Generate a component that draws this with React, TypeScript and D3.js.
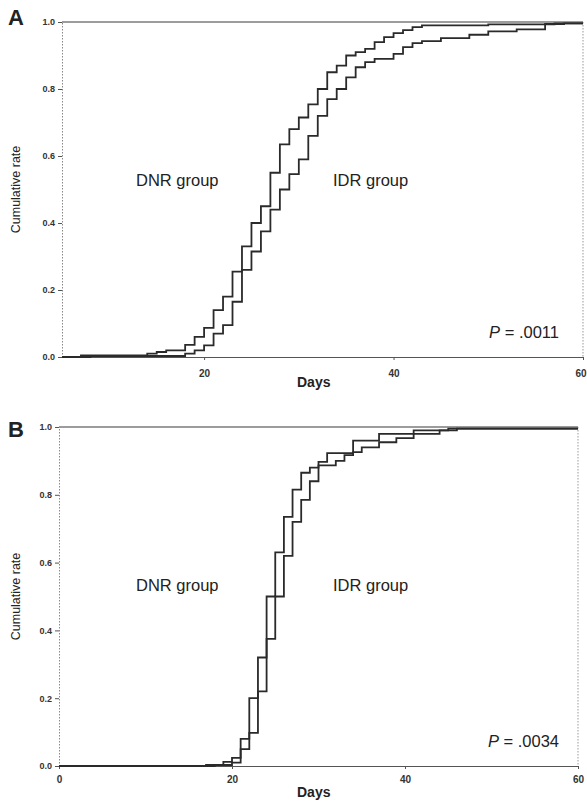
import React, { useEffect, useRef } from "react"
import * as d3 from "d3"

const W = 587
const H = 804
const FONT = "'Liberation Sans', Arial, sans-serif"

// Panel A (day, cumulative rate)
const aDnrDays = [5, 7, 14, 15, 16, 18, 19, 20, 21, 22, 23, 24, 25, 26, 27, 28, 29, 30, 31, 32, 33, 34, 35, 36, 37, 38, 39, 40, 41, 42, 43, 50, 57, 60]
const aDnrRate = [0, 0.005, 0.01, 0.015, 0.02, 0.036, 0.06, 0.087, 0.14, 0.18, 0.255, 0.33, 0.4, 0.45, 0.55, 0.635, 0.68, 0.715, 0.754, 0.8, 0.85, 0.87, 0.9, 0.91, 0.92, 0.94, 0.955, 0.967, 0.976, 0.985, 0.99, 0.993, 0.996, 0.996]
const aIdrDays = [5, 8, 18, 19, 20, 21, 22, 23, 24, 25, 26, 27, 28, 29, 30, 31, 32, 33, 34, 35, 36, 37, 38, 40, 41, 42, 43, 45, 48, 50, 53, 56, 58, 60]
const aIdrRate = [0, 0.003, 0.01, 0.02, 0.035, 0.07, 0.095, 0.165, 0.26, 0.315, 0.375, 0.44, 0.5, 0.546, 0.59, 0.66, 0.72, 0.77, 0.8, 0.835, 0.865, 0.88, 0.89, 0.905, 0.925, 0.937, 0.943, 0.952, 0.962, 0.972, 0.978, 0.994, 0.996, 0.996]

// Panel B
const bDnrDays = [0, 17, 19, 20, 21, 22, 23, 24, 25, 26, 27, 28, 29, 30, 31, 34, 37, 41, 45, 60]
const bDnrRate = [0, 0.003, 0.012, 0.024, 0.08, 0.2, 0.32, 0.5, 0.63, 0.735, 0.815, 0.865, 0.88, 0.897, 0.923, 0.96, 0.98, 0.99, 0.995, 0.995]
const bIdrDays = [0, 18, 20, 21, 22, 23, 24, 25, 26, 27, 28, 29, 30, 32, 33, 34, 35, 37, 39, 41, 44, 46, 60]
const bIdrRate = [0, 0.003, 0.01, 0.05, 0.098, 0.22, 0.375, 0.5, 0.62, 0.72, 0.785, 0.84, 0.887, 0.9, 0.917, 0.926, 0.94, 0.955, 0.967, 0.98, 0.99, 0.995, 0.995]

const rateTicks = [0, 0.2, 0.4, 0.6, 0.8, 1.0]
const aDayTicks = [20, 40, 60]
const bDayTicks = [0, 20, 40, 60]

const zip = (xs: number[], ys: number[]) => xs.map((d, i) => [d, ys[i]] as [number, number])

const panels = [
  {
    letter: "A", letterY: 25, pValue: ".0011",
    left: 62, right: 583, top: 22, bottom: 357, xDomain: [5, 60], xTicks: aDayTicks, tickLabelY: 20, daysY: 30,
    dnr: zip(aDnrDays, aDnrRate), idr: zip(aIdrDays, aIdrRate)
  },
  {
    letter: "B", letterY: 437, pValue: ".0034",
    left: 59, right: 578, top: 427, bottom: 766, xDomain: [0, 60], xTicks: bDayTicks, tickLabelY: 17, daysY: 31,
    dnr: zip(bDnrDays, bDnrRate), idr: zip(bIdrDays, bIdrRate)
  }
]

function drawPanel(svg: any, p: any) {
  const x = d3.scaleLinear().domain(p.xDomain).range([p.left, p.right])
  const y = d3.scaleLinear().domain([0, 1]).range([p.bottom, p.top])
  const g = svg.append("g")

  // frame: solid top, dotted right
  g.append("line")
    .attr("x1", p.left).attr("x2", p.right)
    .attr("y1", y(1)).attr("y2", y(1))
    .attr("stroke", "#3a3a3a").attr("stroke-width", 1.2)
  g.append("line")
    .attr("x1", p.right).attr("x2", p.right)
    .attr("y1", p.top).attr("y2", p.bottom)
    .attr("stroke", "#999").attr("stroke-dasharray", "1.5,1.5")

  const ya = g.append("g")
    .attr("transform", `translate(${p.left},0)`)
    .call(d3.axisLeft(y).tickValues(rateTicks).tickSize(4).tickSizeOuter(0).tickPadding(3).tickFormat(d3.format(".1f")))
  ya.attr("font-family", FONT)
  ya.select(".domain").attr("stroke", "#888").attr("stroke-dasharray", "1.5,1.5")
  ya.selectAll(".tick line").attr("stroke", "#555")
  ya.selectAll("text").attr("font-size", 9).attr("font-weight", "bold").attr("fill", "#333")

  const xa = g.append("g")
    .attr("transform", `translate(0,${p.bottom})`)
    .call(d3.axisBottom(x).tickValues(p.xTicks).tickSize(3).tickSizeOuter(0).tickFormat(d3.format("d")))
  xa.attr("font-family", FONT)
  xa.select(".domain").attr("stroke", "#555").attr("stroke-width", 1.2)
  xa.selectAll(".tick line").attr("stroke", "#555")
  xa.selectAll("text")
    .attr("y", p.tickLabelY).attr("dy", 0)
    .attr("font-size", 10).attr("font-weight", "bold").attr("fill", "#333")
    // keep a label that would run past the page edge inside it
    .attr("text-anchor", (d: number) => (x(d) + 7 > W ? "end" : "middle"))
    .attr("x", (d: number) => (x(d) + 7 > W ? W - 1 - x(d) : 0))

  const line = d3.line<[number, number]>()
    .x(d => x(d[0]))
    .y(d => y(d[1]))
    .curve(d3.curveStepAfter)

  ;[p.dnr, p.idr].forEach(series => {
    g.append("path")
      .attr("d", line(series))
      .attr("fill", "none")
      .attr("stroke", "#2a2a2a")
      .attr("stroke-width", 1.8)
  })

  const txt = g.append("g").attr("font-family", FONT).attr("fill", "#222")
  txt.append("text")
    .attr("x", 8).attr("y", p.letterY)
    .attr("font-size", 22).attr("font-weight", "bold")
    .text(p.letter)
  txt.append("text")
    .attr("transform", `translate(20,${(p.top + p.bottom) / 2}) rotate(-90)`)
    .attr("text-anchor", "middle")
    .attr("font-size", 12.5)
    .text("Cumulative rate")
  txt.append("text")
    .attr("x", 136).attr("y", p.top + 164)
    .attr("font-size", 16.5)
    .text("DNR group")
  txt.append("text")
    .attr("x", 333).attr("y", p.top + 164)
    .attr("font-size", 16.5)
    .text("IDR group")
  const pt = txt.append("text")
    .attr("x", 559).attr("y", p.bottom - 19)
    .attr("text-anchor", "end")
    .attr("font-size", 16.5)
  pt.append("tspan").attr("font-style", "italic").text("P")
  pt.append("tspan").text(` = ${p.pValue}`)
  txt.append("text")
    .attr("x", 297).attr("y", p.bottom + p.daysY)
    .attr("font-size", 14).attr("font-weight", "bold")
    .text("Days")
}

export default function App() {
  const ref = useRef<SVGSVGElement>(null)

  useEffect(() => {
    const svg = d3.select(ref.current)
    svg.selectAll("*").remove()
    svg.append("rect").attr("width", W).attr("height", H).attr("fill", "#fff")
    panels.forEach(p => drawPanel(svg, p))
  }, [])

  return (
    <svg ref={ref} width={W} height={H} style={{ position: "absolute", left: 0, top: 0 }} />
  )
}
